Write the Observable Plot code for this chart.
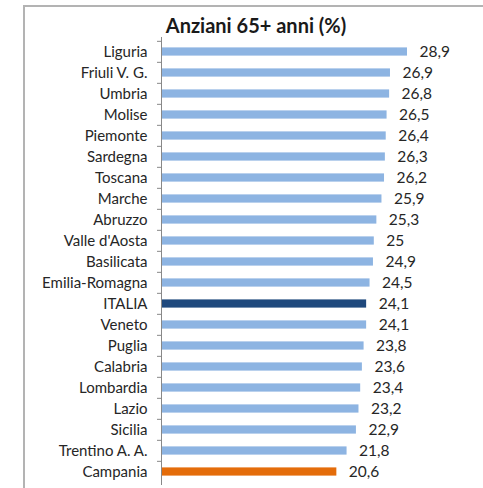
<!DOCTYPE html>
<html>
<head>
<meta charset="utf-8">
<script src="https://cdn.jsdelivr.net/npm/d3@7"></script>
<script src="https://cdn.jsdelivr.net/npm/@observablehq/plot@0.6"></script>
<style>
  html, body { margin: 0; padding: 0; background: #fff; }
  #wrap { position: relative; width: 483px; height: 488px; overflow: hidden; }
  #frame { position: absolute; left: 23px; top: 5px; width: 470px; height: 500px;
           border-left: 2px solid #b3b3b3; border-top: 2px solid #b3b3b3; box-sizing: border-box; pointer-events: none; }
  svg { position: absolute; left: 0; top: 0; }
</style>
</head>
<body>
<div id="wrap"><div id="frame"></div></div>
<script>
const regions = ["Liguria","Friuli V. G.","Umbria","Molise","Piemonte","Sardegna","Toscana","Marche","Abruzzo","Valle d'Aosta","Basilicata","Emilia-Romagna","ITALIA","Veneto","Puglia","Calabria","Lombardia","Lazio","Sicilia","Trentino A. A.","Campania"];
const values = [28.9,26.9,26.8,26.5,26.4,26.3,26.2,25.9,25.3,25,24.9,24.5,24.1,24.1,23.8,23.6,23.4,23.2,22.9,21.8,20.6];
const title = "Anziani 65+ anni (%)";
const highlight = {"ITALIA": "#1f497d", "Campania": "#e46c0a"};
const baseColor = "#8db4e2";

const data = regions.map((r, i) => ({region: r, value: values[i]}));
const fmt = v => String(v).replace(".", ",");
const font = "Lato, 'Open Sans', sans-serif";

const chart = Plot.plot({
  width: 483,
  height: 488,
  marginLeft: 161,
  marginRight: 76,
  marginTop: 37,
  marginBottom: 3,
  style: {fontFamily: font, fontSize: "15px", color: "#262626", background: "transparent"},
  x: {domain: [0, 28.9], axis: null},
  y: {domain: regions, padding: 0, label: null},
  marks: [
    Plot.barX(data, {y: "region", x: "value", insetTop: 6.4, insetBottom: 6.4, fill: d => highlight[d.region] || baseColor}),
    Plot.axisY({tickSize: 0, tickPadding: 14, fontSize: 15, fill: "#262626"}),
    Plot.axisY({tickSize: 4, tickFormat: () => "", dy: -10.67, stroke: "#888"}),
    Plot.ruleX([0], {stroke: "#888"}),
    Plot.text(data, {y: "region", x: "value", text: d => fmt(d.value), textAnchor: "start", dx: 12,
      fontWeight: d => d.region === "Campania" ? "bold" : "normal", fontSize: 15.5, fill: "#262626"}),
    Plot.text([title], {frameAnchor: "top", lineAnchor: "middle", dy: -11, dx: -28.5, text: d => d, fontWeight: "bold", fontSize: 20, fill: "#1a1a1a"})
  ]
});
document.getElementById("wrap").prepend(chart);
</script>
</body>
</html>
